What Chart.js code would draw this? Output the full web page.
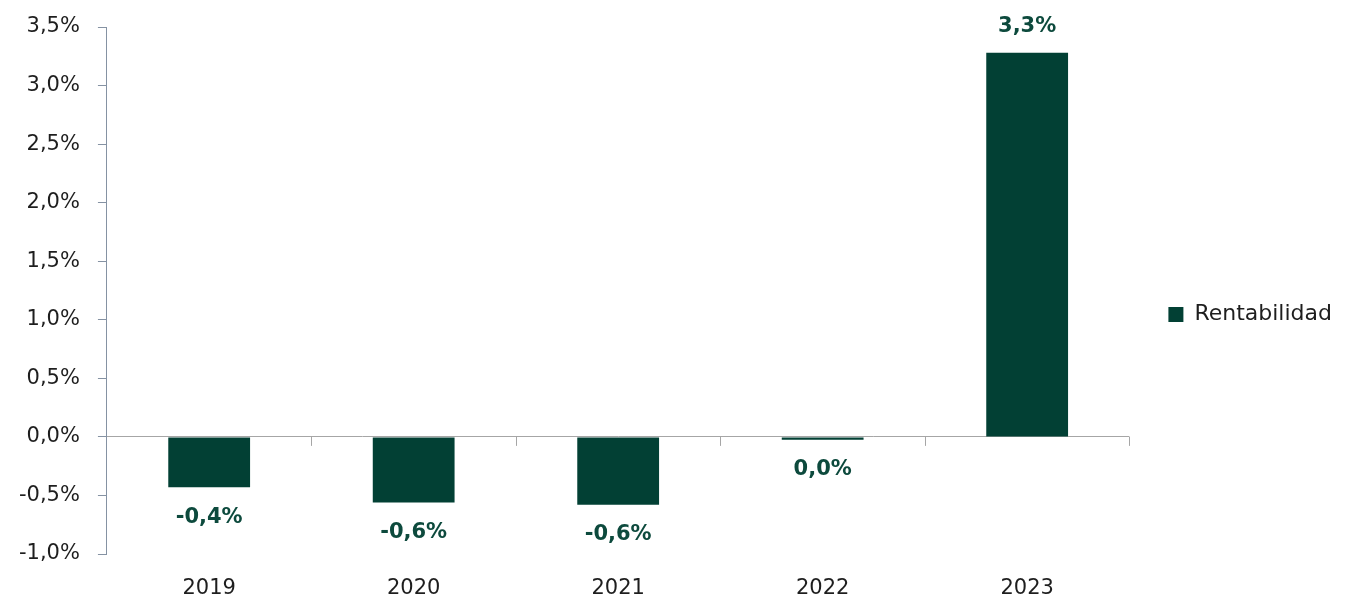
<!DOCTYPE html>
<html>
<head>
<meta charset="utf-8">
<script src="https://cdn.jsdelivr.net/npm/chart.js@4"></script>
<style>
  html, body { margin: 0; padding: 0; background: #fff; }
  #wrap { width: 1365px; height: 602px; }
</style>
</head>
<body>
<div id="wrap"><canvas id="myChart"></canvas></div>
<script>
// Datos del gráfico
const categorias = ["2019", "2020", "2021", "2022", "2023"];
const rentabilidad = [-0.43, -0.56, -0.58, -0.025, 3.28];
const etiquetas = ["-0,4%", "-0,6%", "-0,6%", "0,0%", "3,3%"];

const verde = "#024034";
const fuente = "'DejaVu Sans', sans-serif";

// marcas del eje x sobre la línea del cero + etiquetas de valores
const extras = {
  id: "extras",
  afterDatasetsDraw(chart) {
    const ctx = chart.ctx;
    const x = chart.scales.x;
    const y = chart.scales.y;
    const y0 = y.getPixelForValue(0);
    const paso = x.getPixelForValue(1) - x.getPixelForValue(0);
    ctx.save();
    ctx.strokeStyle = "#a6a6a6";
    ctx.lineWidth = 1;
    for (let i = 0; i < categorias.length; i++) {
      const px = Math.round(x.getPixelForValue(i) + paso / 2) + 0.5;
      ctx.beginPath();
      ctx.moveTo(px, y0);
      ctx.lineTo(px, y0 + 9);
      ctx.stroke();
    }
    const meta = chart.getDatasetMeta(0);
    ctx.fillStyle = "#0d4a3d";
    ctx.font = "bold 21px " + fuente;
    ctx.textAlign = "center";
    ctx.textBaseline = "middle";
    meta.data.forEach((bar, i) => {
      const v = rentabilidad[i];
      const yy = v < 0 ? bar.y + 30 : bar.y - 26;
      ctx.fillText(etiquetas[i], bar.x, yy);
    });
    ctx.restore();
  }
};

const ctx = document.getElementById("myChart").getContext("2d");
const myChart = new Chart(ctx, {
  type: "bar",
  data: {
    labels: categorias,
    datasets: [{
      label: "Rentabilidad",
      data: rentabilidad,
      backgroundColor: verde,
      borderWidth: 0,
      barPercentage: 0.4,
      categoryPercentage: 1
    }]
  },
  options: {
    responsive: true,
    maintainAspectRatio: false,
    animation: false,
    layout: { padding: { top: 27, left: 1, right: 23, bottom: 0 } },
    plugins: {
      tooltip: { enabled: false },
      legend: {
        position: "right",
        labels: {
          boxWidth: 15,
          boxHeight: 15,
          padding: 39,
          color: "#1e1e1e",
          font: { family: fuente, size: 22 }
        }
      }
    },
    scales: {
      x: {
        grid: { display: false },
        border: { display: false },
        afterFit: s => { s.height = 48; },
        ticks: {
          color: "#1e1e1e",
          padding: 14,
          font: { family: fuente, size: 21 }
        }
      },
      y: {
        min: -1,
        max: 3.5,
        afterFit: s => { s.paddingTop = 0; },
        ticks: {
          stepSize: 0.5,
          padding: 18,
          color: "#1e1e1e",
          font: { family: fuente, size: 21 },
          callback: v => v.toFixed(1).replace(".", ",") + "%"
        },
        grid: {
          color: c => (c.tick && c.tick.value === 0 ? "#a6a6a6" : "rgba(0,0,0,0)"),
          tickColor: "#8592a3",
          tickLength: 9
        },
        border: { display: true, color: "#8592a3" }
      }
    }
  },
  plugins: [extras]
});
</script>
</body>
</html>
